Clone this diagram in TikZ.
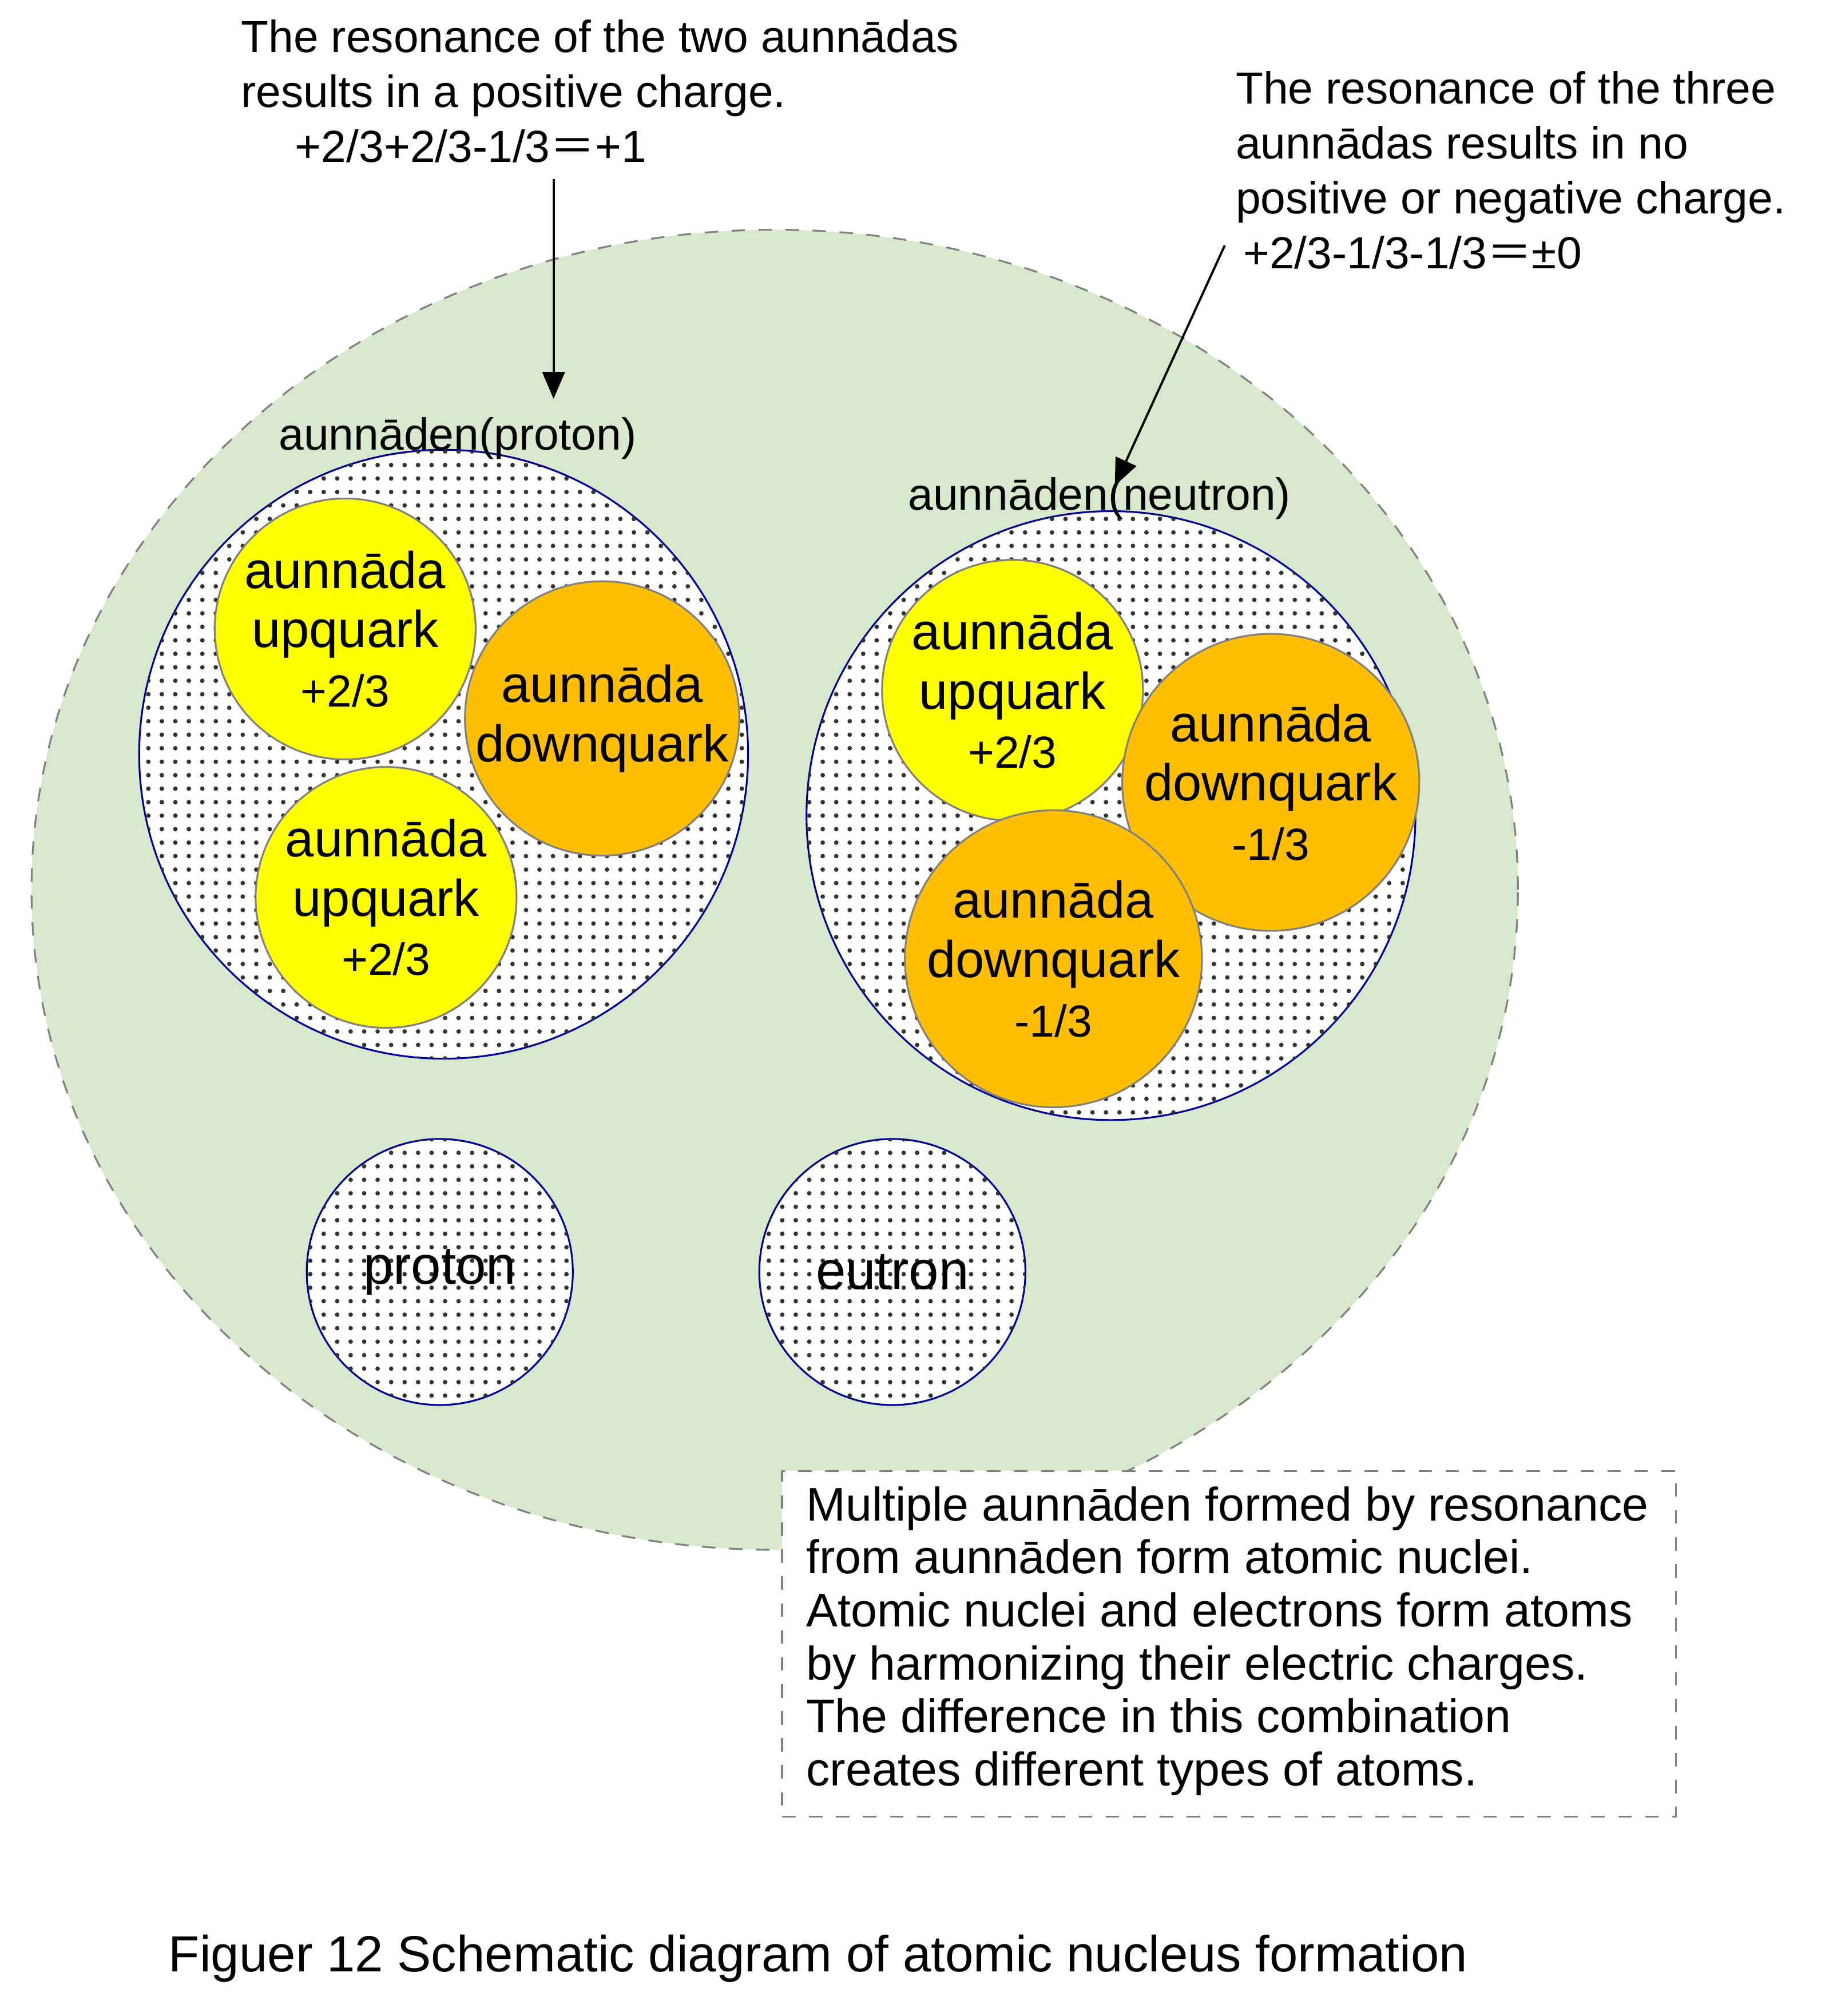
\documentclass[tikz,border=0pt]{standalone}
\usepackage{fontspec}
\setmainfont{Liberation Sans}
\newfontfamily\cjkf{Noto Sans CJK SC}
\usetikzlibrary{patterns,arrows.meta,shapes.geometric}
\definecolor{nucg}{RGB}{216,232,204}
\definecolor{yel}{RGB}{255,255,0}
\definecolor{org}{RGB}{255,190,0}
\begin{document}
\begin{tikzpicture}[x=0.01cm,y=-0.01cm,
  dotc/.style={circle,draw=blue!60!black,line width=0.4pt,fill=white,postaction={pattern=dots,pattern color=black!80}},
  up/.style={circle,draw=black!50,fill=yel,inner sep=0pt,align=center,font=\fontsize{11.5}{13.2}\selectfont},
  dn/.style={circle,draw=black!50,fill=org,inner sep=0pt,align=center,font=\fontsize{11.5}{13.2}\selectfont},
  txt/.style={align=left,font=\fontsize{10}{12.2}\selectfont,inner sep=0pt},
  arr/.style={-{Triangle[length=6pt,width=5pt]},line width=0.5pt}]
\useasboundingbox (0,0) rectangle (1440,1577);
\node (nuc) [ellipse,minimum width=11.62cm,minimum height=10.32cm,draw=gray,dashed,fill=nucg] at (606,696) {};
\node (pc) [dotc,minimum size=4.76cm] at (347,590) {};
\node (nc) [dotc,minimum size=4.76cm] at (869,638) {};
\node (u1) [up,minimum size=2.04cm] at (270,492) {aunnāda\\upquark\\{\fontsize{10}{12}\selectfont +2/3}};
\node (u2) [up,minimum size=2.04cm] at (302,702) {aunnāda\\upquark\\{\fontsize{10}{12}\selectfont +2/3}};
\node (d1) [dn,minimum size=1.96cm] at (471,562) {aunnāda\\downquark};
\node (u3) [up,minimum size=2.04cm] at (792,540) {aunnāda\\upquark\\{\fontsize{10}{12}\selectfont +2/3}};
\node (d2) [dn,minimum size=1.96cm] at (994,612) {aunnāda\\downquark\\{\fontsize{10}{12}\selectfont -1/3}};
\node (d3) [dn,minimum size=1.96cm] at (824,750) {aunnāda\\downquark\\{\fontsize{10}{12}\selectfont -1/3}};
\node (sp) [dotc,minimum size=2.08cm,font=\fontsize{12}{14}\selectfont] at (344,995) {proton};
\node (sn) [dotc,minimum size=2.08cm,font=\fontsize{12}{14}\selectfont] at (698,995) {eutron};
\node (lp) [txt] at (358,343) {aunnāden(proton)};
\node (ln) [txt] at (860,390) {aunnāden(neutron)};
\node (t1) [txt,anchor=north west] at (188,15) {The resonance of the two aunnādas\\results in a positive charge.\\\hspace{1.2em}+2/3+2/3-1/3{\cjkf ＝}+1};
\node (t2) [txt,anchor=north west] at (966,55) {The resonance of the three\\aunnādas results in no\\positive or negative charge.\\ \,+2/3-1/3-1/3{\cjkf ＝}±0};
\coordinate (a1s) at (433,140); \coordinate (a1e) at (433,312);
\coordinate (a2s) at (958,192); \coordinate (a2e) at (872,380);
\draw[arr] (a1s) -- (a1e);
\draw[arr] (a2s) -- (a2e);
\node (box) [draw=gray,dashed,fill=white,anchor=north west,minimum width=6.99cm,minimum height=2.70cm,inner sep=0pt] at (611,1150) {};
\node (bt) [txt,anchor=north west,font=\fontsize{10.5}{11.8}\selectfont] at (630,1162) {Multiple aunnāden formed by resonance\\from aunnāden form atomic nuclei.\\Atomic nuclei and electrons form atoms\\by harmonizing their electric charges.\\The difference in this combination\\creates different types of atoms.};
\node (cap) [txt,font=\fontsize{11.3}{13}\selectfont] at (640,1532) {Figuer 12 Schematic diagram of atomic nucleus formation};
\end{tikzpicture}
\end{document}
